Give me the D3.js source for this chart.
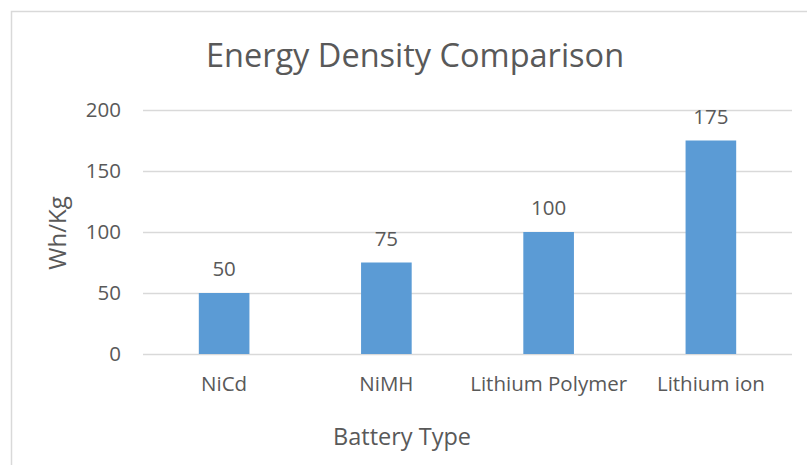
<!DOCTYPE html>
<html>
<head>
<meta charset="utf-8">
<script src="https://cdn.jsdelivr.net/npm/d3@7"></script>
<style>
  body { margin: 0; background: #fff; }
  svg text { font-family: "Open Sans", "Noto Sans", sans-serif; fill: #595959; }
</style>
</head>
<body>
<div id="chart"></div>
<script>
// values
const categories = ["NiCd", "NiMH", "Lithium Polymer", "Lithium ion"];
const energyDensity = [50, 75, 100, 175];
const yTicks = [0, 50, 100, 150, 200];

const width = 807, height = 465;
const margin = { top: 110, right: 15, bottom: 111, left: 143 };

const svg = d3.select("#chart").append("svg")
    .attr("width", width)
    .attr("height", height);

// chart frame (runs off the right and bottom edge like the screenshot)
svg.append("rect")
    .attr("x", 11.5).attr("y", 11.5)
    .attr("width", 820).attr("height", 480)
    .attr("fill", "#fff")
    .attr("stroke", "#d9d9d9")
    .attr("stroke-width", 1.5);

const x = d3.scaleBand()
    .domain(categories)
    .range([margin.left, width - margin.right])
    .paddingInner(0.688)
    .paddingOuter(0.344);

const y = d3.scaleLinear()
    .domain([0, 200])
    .range([height - margin.bottom, margin.top]);

// gridlines
svg.append("g")
    .selectAll("line")
    .data(yTicks)
    .join("line")
      .attr("x1", margin.left)
      .attr("x2", width - margin.right)
      .attr("y1", d => Math.round(y(d)) + 0.5)
      .attr("y2", d => Math.round(y(d)) + 0.5)
      .attr("stroke", "#d9d9d9")
      .attr("stroke-width", 1.5);

// y axis labels
const yAxis = d3.axisLeft(y).tickValues(yTicks).tickSize(0).tickPadding(22);
svg.append("g")
    .attr("transform", `translate(${margin.left},0)`)
    .call(yAxis)
    .call(g => g.select(".domain").remove())
    .call(g => g.selectAll("text")
        .attr("font-size", 20.5)
        .attr("font-family", null)
        .attr("fill", "#595959"));

// bars
svg.append("g")
    .selectAll("rect")
    .data(energyDensity)
    .join("rect")
      .attr("x", (d, i) => x(categories[i]))
      .attr("y", d => y(d))
      .attr("width", x.bandwidth())
      .attr("height", d => y(0) - y(d))
      .attr("fill", "#5b9bd5");

// data labels
svg.append("g")
    .selectAll("text")
    .data(energyDensity)
    .join("text")
      .attr("x", (d, i) => x(categories[i]) + x.bandwidth() / 2)
      .attr("y", d => y(d) - 17)
      .attr("text-anchor", "middle")
      .attr("font-size", 20.5)
      .attr("fill", "#404040")
      .text(d => d);

// x axis labels
const xAxis = d3.axisBottom(x).tickSize(0).tickPadding(22);
svg.append("g")
    .attr("transform", `translate(0,${y(0)})`)
    .call(xAxis)
    .call(g => g.select(".domain").remove())
    .call(g => g.selectAll("text")
        .attr("font-size", 20.5)
        .attr("font-family", null)
        .attr("fill", "#595959"));

// title
svg.append("text")
    .attr("x", 415)
    .attr("y", 67)
    .attr("text-anchor", "middle")
    .attr("font-size", 32.5)
    .text("Energy Density Comparison");

// axis titles
svg.append("text")
    .attr("x", 402)
    .attr("y", 445)
    .attr("text-anchor", "middle")
    .attr("font-size", 23.5)
    .text("Battery Type");

svg.append("text")
    .attr("transform", "translate(66,233) rotate(-90)")
    .attr("text-anchor", "middle")
    .attr("font-size", 24)
    .text("Wh/Kg");
</script>
</body>
</html>
